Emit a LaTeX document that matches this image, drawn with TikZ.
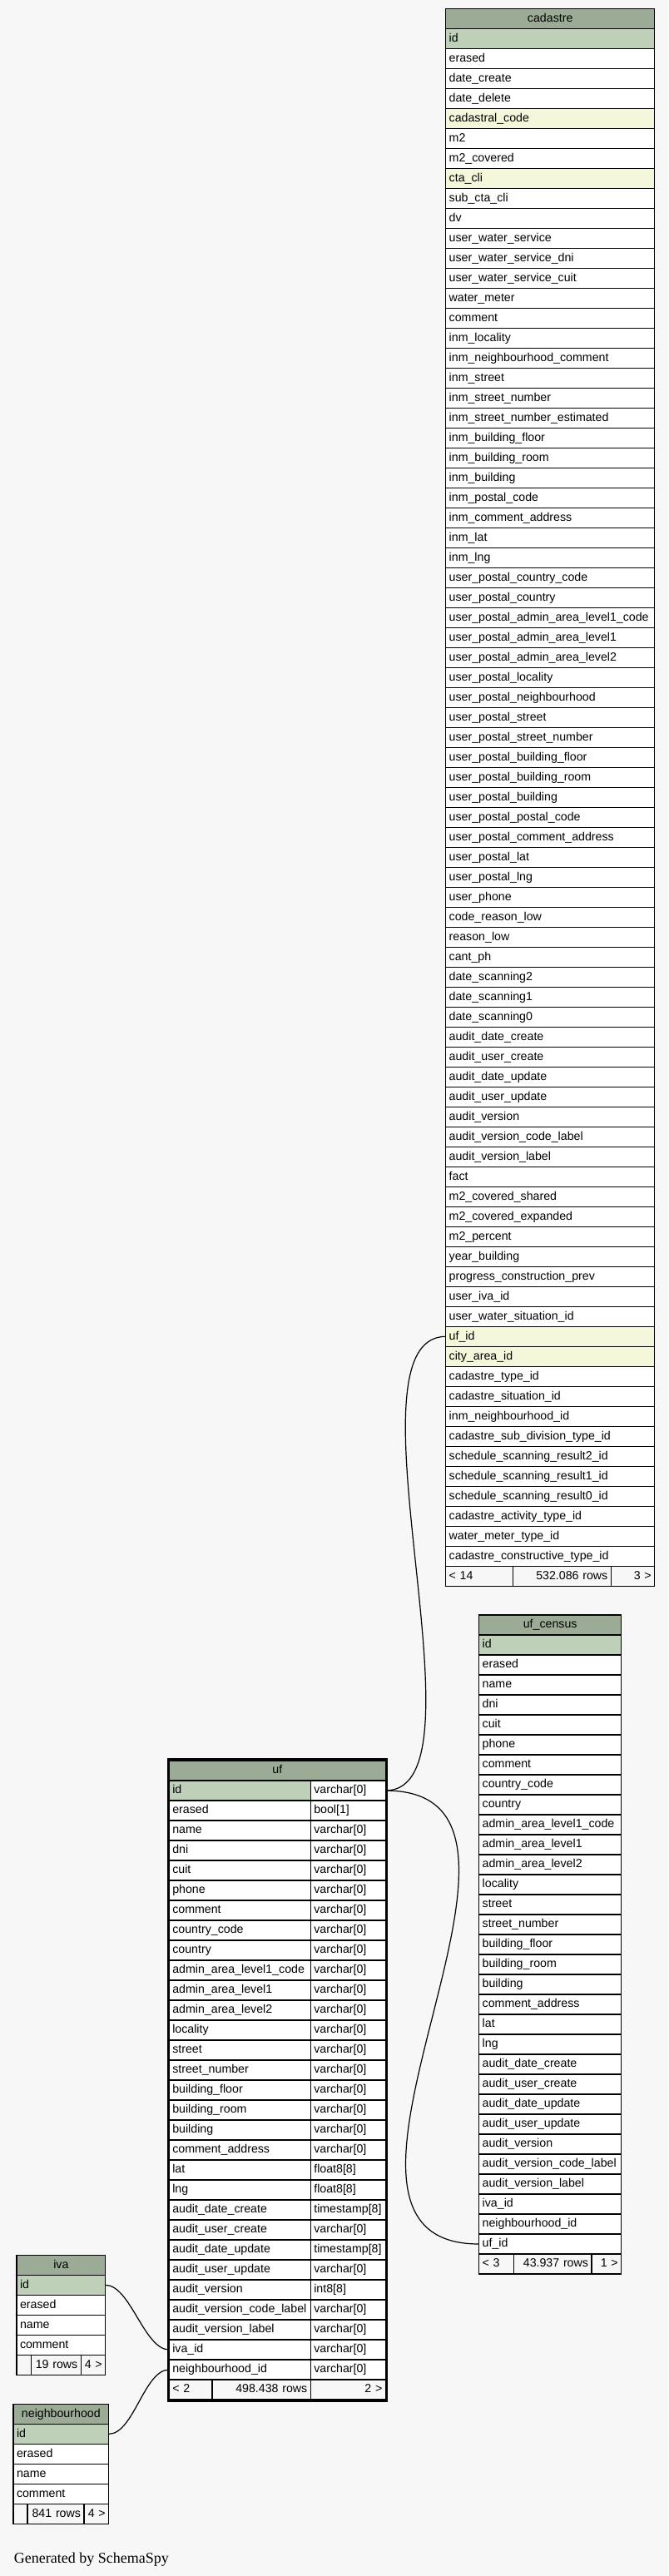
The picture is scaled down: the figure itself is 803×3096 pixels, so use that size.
\documentclass[tikz,border=0pt]{standalone}
\usepackage{fontspec}
\setmainfont{Liberation Sans}
\newfontfamily\creditfont{Liberation Serif}
\definecolor{canvas}{HTML}{F7F7F7}
\definecolor{headgreen}{HTML}{9BAB96}
\definecolor{keygreen}{HTML}{BED1B8}
\definecolor{indexyellow}{HTML}{F4F7DA}
\begin{document}
\catcode`\_=12
\begin{tikzpicture}[x=1pt, y=-1pt,
    cell/.style={draw, line width=1.1pt, fill=white, anchor=north west, outer sep=0pt, inner xsep=4pt, inner ysep=0pt,
      minimum height=24pt, text height=10.5pt, text depth=3pt, font=\fontsize{14.2}{17}\selectfont},
    field/.style={cell, text width=#1pt, align=left},
    head/.style={cell, text width=#1pt, align=center, fill=headgreen},
    foot/.style={cell, text width=#1pt, align=right, fill=canvas},
    link/.style={line width=1.2pt}]
    \useasboundingbox (0,0) rectangle (803,3096);
    \fill[canvas] (0,0) rectangle (803,3096);
    % cadastre
    \node[head=243] (cad) at (535.7,10.3) {cadastre};
    \node[field=243, fill=keygreen] (cad-id) at (535.7,34.3) {id};
    \foreach \fld [count=\row from 2] in {erased, date_create, date_delete, cadastral_code, m2, m2_covered, cta_cli, sub_cta_cli, dv,
      user_water_service, user_water_service_dni, user_water_service_cuit, water_meter, comment, inm_locality,
      inm_neighbourhood_comment, inm_street, inm_street_number, inm_street_number_estimated, inm_building_floor,
      inm_building_room, inm_building, inm_postal_code, inm_comment_address, inm_lat, inm_lng, user_postal_country_code,
      user_postal_country, user_postal_admin_area_level1_code, user_postal_admin_area_level1, user_postal_admin_area_level2,
      user_postal_locality, user_postal_neighbourhood, user_postal_street, user_postal_street_number,
      user_postal_building_floor, user_postal_building_room, user_postal_building, user_postal_postal_code,
      user_postal_comment_address, user_postal_lat, user_postal_lng, user_phone, code_reason_low, reason_low, cant_ph,
      date_scanning2, date_scanning1, date_scanning0, audit_date_create, audit_user_create, audit_date_update,
      audit_user_update, audit_version, audit_version_code_label, audit_version_label, fact, m2_covered_shared,
      m2_covered_expanded, m2_percent, year_building, progress_construction_prev, user_iva_id, user_water_situation_id,
      uf_id, city_area_id, cadastre_type_id, cadastre_situation_id, inm_neighbourhood_id, cadastre_sub_division_type_id,
      schedule_scanning_result2_id, schedule_scanning_result1_id, schedule_scanning_result0_id,
      cadastre_activity_type_id, water_meter_type_id, cadastre_constructive_type_id}{
      \pgfmathtruncatemacro\tint{100*((\row==5)+(\row==8)+(\row==66)+(\row==67))}
      \node[field=243, fill=indexyellow!\tint!white] (cad-\fld) at (535.7,10.3+24*\row) {\fld};
    }
    \node[foot=73, align=left] (cad-prev) at (535.7,1882.3) {< 14};
    \node[foot=109.6] (cad-rows) at (cad-prev.north east) {532.086 rows};
    \node[foot=44.4] (cad-next) at (cad-rows.north east) {3 >};
    % uf_census
    \node[head=163] (cen) at (575.7,1941) {uf_census};
    \foreach \fld [count=\row] in {id, erased, name, dni, cuit, phone, comment, country_code, country, admin_area_level1_code,
      admin_area_level1, admin_area_level2, locality, street, street_number, building_floor, building_room, building,
      comment_address, lat, lng, audit_date_create, audit_user_create, audit_date_update, audit_user_update,
      audit_version, audit_version_code_label, audit_version_label, iva_id, neighbourhood_id, uf_id}{
      \pgfmathtruncatemacro\tint{100*(\row==1)}
      \node[field=163, fill=keygreen!\tint!white] (cen-\fld) at (575.7,1941+24*\row) {\fld};
    }
    \node[foot=33.6, align=left] (cen-prev) at (575.7,2709) {< 3};
    \node[foot=85.7] (cen-rows) at (cen-prev.north east) {43.937 rows};
    \node[foot=27.7] (cen-next) at (cen-rows.north east) {1 >};
    % uf
    \node[head=252] (uf) at (203.3,2116) {uf};
    \foreach \fld/\typ [count=\row] in {id/varchar[0], erased/bool[1], name/varchar[0], dni/varchar[0], cuit/varchar[0],
      phone/varchar[0], comment/varchar[0], country_code/varchar[0], country/varchar[0], admin_area_level1_code/varchar[0],
      admin_area_level1/varchar[0], admin_area_level2/varchar[0], locality/varchar[0], street/varchar[0],
      street_number/varchar[0], building_floor/varchar[0], building_room/varchar[0], building/varchar[0],
      comment_address/varchar[0], lat/float8[8], lng/float8[8], audit_date_create/timestamp[8],
      audit_user_create/varchar[0], audit_date_update/timestamp[8], audit_user_update/varchar[0], audit_version/int8[8],
      audit_version_code_label/varchar[0], audit_version_label/varchar[0], iva_id/varchar[0], neighbourhood_id/varchar[0]}{
      \pgfmathtruncatemacro\tint{100*(\row==1)}
      \node[field=162, fill=keygreen!\tint!white] (uf-\fld) at (203.3,2116+24*\row) {\fld};
      \node[field=82] (uf-\fld-type) at (uf-\fld.north east) {\typ};
    }
    \node[foot=43.7, align=left] (uf-prev) at (203.3,2860) {< 2};
    \node[foot=110.3] (uf-rows) at (uf-prev.north east) {498.438 rows};
    \node[foot=82] (uf-next) at (uf-rows.north east) {2 >};
    \draw[line width=2.7pt] ([shift={(-1.35,-1.35)}]uf.north west) rectangle ([shift={(1.35,1.35)}]uf-next.south east);
    % iva
    \node[head=98.7] (iva) at (20,2710.3) {iva};
    \foreach \fld [count=\row] in {id, erased, name, comment}{
      \pgfmathtruncatemacro\tint{100*(\row==1)}
      \node[field=98.7, fill=keygreen!\tint!white] (iva-\fld) at (20,2710.3+24*\row) {\fld};
    }
    \node[foot=9.3] (iva-prev) at (20,2830.3) {};
    \node[foot=52] (iva-rows) at (iva-prev.north east) {19 rows};
    \node[foot=21.4] (iva-next) at (iva-rows.north east) {4 >};
    % neighbourhood
    \node[head=106.7] (nbh) at (16,2889.3) {neighbourhood};
    \foreach \fld [count=\row] in {id, erased, name, comment}{
      \pgfmathtruncatemacro\tint{100*(\row==1)}
      \node[field=106.7, fill=keygreen!\tint!white] (nbh-\fld) at (16,2889.3+24*\row) {\fld};
    }
    \node[foot=9] (nbh-prev) at (16,3009.3) {};
    \node[foot=60] (nbh-rows) at (nbh-prev.north east) {841 rows};
    \node[foot=21.7] (nbh-next) at (nbh-rows.north east) {4 >};
    % links
    \draw[link] (uf-id-type.east)..controls++(0:130) and++(180:130)..(cad-uf_id.west);
    \draw[link] (uf-id-type.east)..controls++(0:250) and++(180:250)..(cen-uf_id.west);
    \draw[link] (iva-id.east)..controls++(0:30) and++(180:30)..(uf-iva_id.west);
    \draw[link] (nbh-id.east)..controls++(0:30) and++(180:30)..(uf-neighbourhood_id.west);
    \node[anchor=base west, inner sep=0pt, font=\creditfont\fontsize{18}{21}\selectfont] (credit) at (16.7,3080) {Generated by SchemaSpy};
\end{tikzpicture}
\end{document}
